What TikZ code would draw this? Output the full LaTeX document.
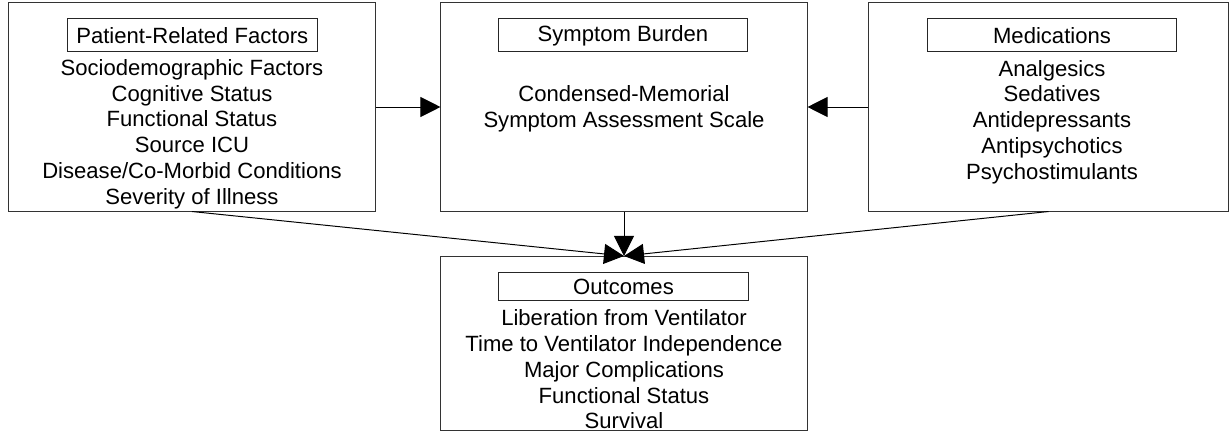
\documentclass[tikz,border=0pt]{standalone}
\usepackage{fontspec}
\setmainfont{Liberation Sans}
\usetikzlibrary{arrows.meta}
\usetikzlibrary{positioning}

\tikzset{
  bigbox/.style={draw=black!80,line width=0.7pt,rectangle,inner sep=0pt},
  headbox/.style={draw=black!85,line width=0.7pt,rectangle,inner sep=0pt,minimum width=6.24cm,font=\fontsize{15.7}{18.3}\selectfont},
  itemtext/.style={align=center,inner sep=0pt,font=\fontsize{15.7}{18.3}\selectfont},
  flow/.style={line width=0.7pt,-{Triangle[length=0.5cm,width=0.5cm]}}
}

\begin{document}
\begin{tikzpicture}[x=0.025cm,y=-0.025cm]
\useasboundingbox (0,0) rectangle (1231,433);

\node[bigbox,minimum width=9.15cm,minimum height=5.2cm] (pat) at (192,107) {};
\node[bigbox,minimum width=9.15cm,minimum height=5.2cm] (sym) at (624,107) {};
\node[bigbox,minimum width=8.975cm,minimum height=5.2cm] (med) at (1048.5,107) {};
\node[bigbox,minimum width=9.15cm,minimum height=4.35cm] (out) at (624,343.5) {};

\node[headbox,minimum height=0.82cm] (patHead) at (192.3,35.3) {Patient-Related Factors};
\node[headbox,minimum height=0.82cm] (symHead) at (623,35.3) {Symptom Burden};
\node[headbox,minimum height=0.82cm] (medHead) at (1052,35.3) {Medications};
\node[headbox,minimum height=0.72cm] (outHead) at (623.5,286.4) {Outcomes};

\node[itemtext] (patList) at (192,134) {Sociodemographic Factors\\Cognitive Status\\Functional Status\\Source ICU\\Disease/Co-Morbid Conditions\\Severity of Illness};
\node[itemtext] (symList) at (624,109) {Condensed-Memorial\\Symptom Assessment Scale};
\node[itemtext] (medList) at (1052,122) {Analgesics\\Sedatives\\Antidepressants\\Antipsychotics\\Psychostimulants};
\node[itemtext] (outList) at (624,369.5) {Liberation from Ventilator\\Time to Ventilator Independence\\Major Complications\\Functional Status\\Survival};

\draw[flow] (pat.east) -- (sym.west);
\draw[flow] (med.west) -- (sym.east);
\draw[flow] (sym.south) -- (out.north);
\draw[flow] (pat.south) -- (out.north);
\draw[flow] (med.south) -- (out.north);

\end{tikzpicture}
\end{document}
